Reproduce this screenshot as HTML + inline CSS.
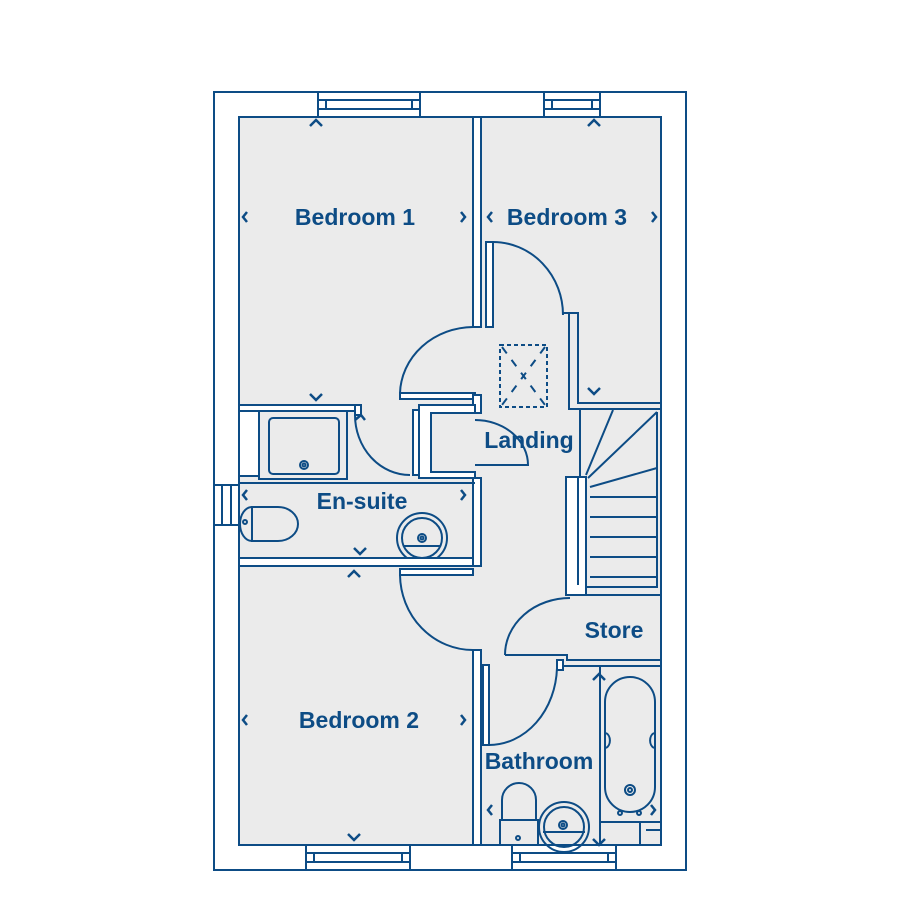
<!DOCTYPE html>
<html><head><meta charset="utf-8"><style>
html,body{margin:0;padding:0;background:#fff;}
svg{display:block}
text{font-family:"Liberation Sans",sans-serif;font-weight:bold;fill:#0d4c85;font-size:23px}
</style></head><body>
<svg width="900" height="900" viewBox="0 0 900 900" xmlns="http://www.w3.org/2000/svg">
<g stroke="#0d4c85" stroke-width="2" fill="none">
<rect x="214" y="92" width="472" height="778" fill="#fff"/>
<rect x="239" y="117" width="422" height="728" fill="#ebebeb"/>
<rect x="318" y="92" width="102" height="25" fill="#fff"/><rect x="318" y="100" width="102" height="9"/><line x1="326" y1="100" x2="326" y2="109"/><line x1="412" y1="100" x2="412" y2="109"/>
<rect x="544" y="92" width="56" height="25" fill="#fff"/><rect x="544" y="100" width="56" height="9"/><line x1="552" y1="100" x2="552" y2="109"/><line x1="592" y1="100" x2="592" y2="109"/>
<rect x="306" y="845" width="104" height="25" fill="#fff"/><rect x="306" y="853" width="104" height="9"/><line x1="314" y1="853" x2="314" y2="862"/><line x1="402" y1="853" x2="402" y2="862"/>
<rect x="512" y="845" width="104" height="25" fill="#fff"/><rect x="512" y="853" width="104" height="9"/><line x1="520" y1="853" x2="520" y2="862"/><line x1="608" y1="853" x2="608" y2="862"/>
<rect x="214" y="485" width="25" height="40" fill="#fff"/><rect x="222" y="485" width="9" height="40"/>
<rect x="473" y="117" width="8" height="210" fill="#fff"/>
<rect x="486" y="242" width="7" height="85" fill="#fff"/>
<path d="M493 242 A70 73 0 0 1 563 315"/>
<path d="M563 313 H578 V403 H661"/>
<path d="M569 313 V409 H661"/>
<path d="M473 327 A74 68 0 0 0 400 393"/>
<rect x="400" y="393" width="75" height="6" fill="#fff"/>
<rect x="473" y="395" width="8" height="18" fill="#fff"/>
<rect x="500" y="345" width="47" height="62" stroke-dasharray="4 3"/>
<path d="M502 347 L545 405 M545 347 L502 405" stroke-dasharray="8 8"/>
<rect x="239" y="405" width="116" height="6" fill="#fff"/>
<rect x="355" y="405" width="6" height="10" fill="#fff"/>
<path d="M355 415 A55 60 0 0 0 410 475"/>
<rect x="413" y="410" width="6" height="65" fill="#fff"/>
<path d="M419 405 H475 V413 H431 V472 H475 V478 H419 Z" fill="#fff"/>
<path d="M475 420 A53 45 0 0 1 528 465 H475"/>
<rect x="473" y="478" width="8" height="88" fill="#fff"/>
<rect x="239" y="411" width="20" height="65" fill="#fff"/>
<rect x="259" y="411" width="88" height="68"/>
<rect x="269" y="418" width="70" height="56" rx="4"/>
<circle cx="304" cy="465" r="4"/><circle cx="304" cy="465" r="1.5"/>
<line x1="239" y1="483" x2="475" y2="483"/>
<path d="M252 507 A12 17 0 0 0 252 541 Z" fill="#ebebeb"/>
<path d="M252 507 H278 A20 17 0 0 1 278 541 H252 Z"/>
<circle cx="245" cy="522" r="2"/>
<circle cx="422" cy="538" r="25"/><circle cx="422" cy="538" r="20"/>
<line x1="403" y1="546" x2="441" y2="546"/>
<circle cx="422" cy="538" r="4"/><circle cx="422" cy="538" r="1.5"/>
<rect x="239" y="558" width="234" height="8" fill="#fff"/>
<rect x="400" y="569" width="73" height="6" fill="#fff"/>
<path d="M400 575 A73 76 0 0 0 473 650"/>
<rect x="473" y="650" width="8" height="195" fill="#fff"/>
<rect x="483" y="665" width="6" height="80" fill="#fff"/>
<rect x="580" y="409" width="81" height="186" fill="#ebebeb"/>
<rect x="566" y="477" width="20" height="118" fill="#fff"/>
<line x1="578" y1="477" x2="578" y2="585"/>
<path d="M586 587 H657 V412 M586 475 L613 410 M588 478 L657 412 M590 487 L657 468 M590 497 H657 M590 517 H657 M590 537 H657 M590 557 H657 M590 577 H657"/>
<path d="M505 655 A65 57 0 0 1 570 598"/>
<path d="M505 655 H567 V660 H661 V666 H562"/>
<rect x="557" y="660" width="6" height="10" fill="#fff"/>
<path d="M489 745 A68 80 0 0 0 557 668"/>
<line x1="600" y1="666" x2="600" y2="845"/>
<rect x="605" y="677" width="50" height="135" rx="25"/>
<path d="M606 733 A6 8 0 0 1 606 748 M654 733 A6 8 0 0 0 654 748"/>
<circle cx="630" cy="790" r="5"/><circle cx="630" cy="790" r="2"/>
<circle cx="620" cy="813" r="2"/><circle cx="639" cy="813" r="2"/>
<path d="M600 822 H661 M640 822 V845 M646 830 H661 V845"/>
<path d="M502 820 V800 A17 17 0 0 1 536 800 V820 Z"/>
<path d="M500 820 H538 V845 H500 Z" fill="#ebebeb"/>
<circle cx="518" cy="838" r="2"/>
<circle cx="564" cy="827" r="25"/><circle cx="564" cy="827" r="20"/>
<line x1="543" y1="832" x2="585" y2="832"/>
<circle cx="563" cy="825" r="4"/><circle cx="563" cy="825" r="1.5"/>
</g>
<g stroke="#0d4c85" stroke-width="2.5" fill="none">
<path d="M310 126 L316 120 L322 126"/><path d="M588 126 L594 120 L600 126"/>
<path d="M247 212 L243 217 L247 222"/><path d="M461 212 L465 217 L461 222"/>
<path d="M492 212 L488 217 L492 222"/><path d="M652 212 L656 217 L652 222"/>
<path d="M310 394 L316 400 L322 394"/><path d="M588 388 L594 394 L600 388"/>
<path d="M355 420 L361 415 L365 420"/>
<path d="M247 490 L243 495 L247 500"/><path d="M461 490 L465 495 L461 500"/>
<path d="M354 548 L360 554 L366 548"/><path d="M348 577 L354 571 L360 577"/>
<path d="M247 715 L243 720 L247 725"/><path d="M461 715 L465 720 L461 725"/>
<path d="M348 834 L354 840 L360 834"/>
<path d="M492 805 L488 810 L492 815"/><path d="M651 805 L655 810 L651 815"/>
<path d="M593 680 L599 674 L605 680 M593 839 L599 845 L605 839"/>
</g>
<text x="355" y="225" text-anchor="middle">Bedroom 1</text>
<text x="567" y="225" text-anchor="middle">Bedroom 3</text>
<text x="529" y="448" text-anchor="middle">Landing</text>
<text x="362" y="509" text-anchor="middle">En-suite</text>
<text x="614" y="638" text-anchor="middle">Store</text>
<text x="359" y="728" text-anchor="middle">Bedroom 2</text>
<text x="539" y="769" text-anchor="middle">Bathroom</text>
</svg>
</body></html>
